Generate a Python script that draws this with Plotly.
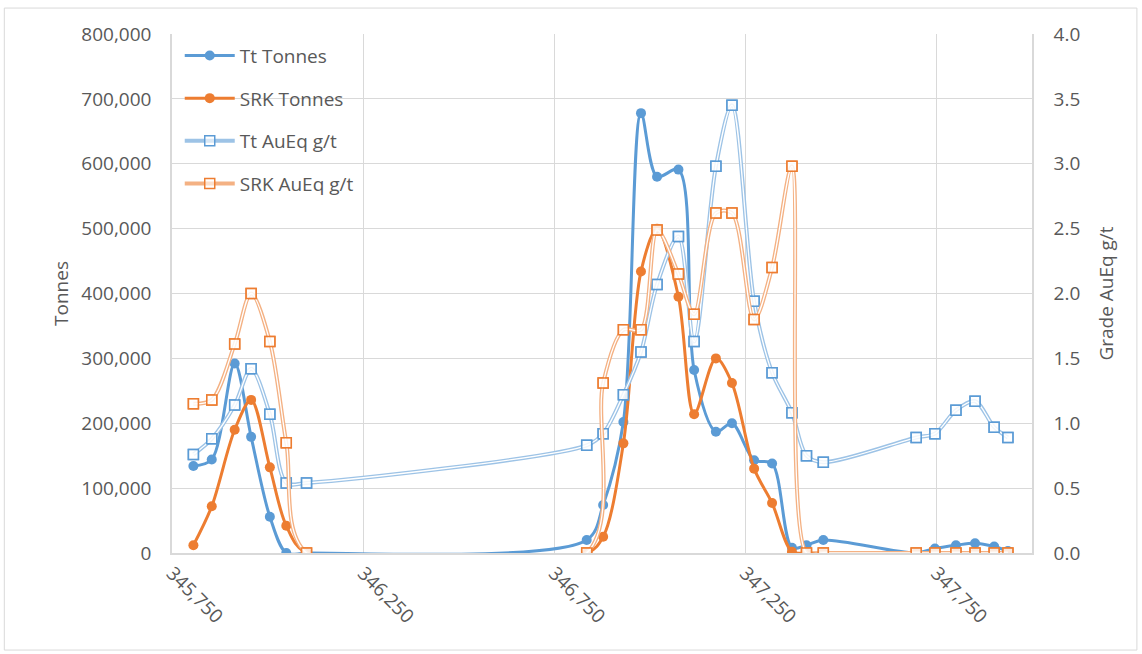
import plotly.graph_objects as go

# Section northing positions shared by all four series
northing = [345806, 345854, 345914, 345957, 346006, 346049, 346102,
            346835, 346878, 346931, 346977, 347019, 347075, 347116, 347173,
            347215, 347273, 347320, 347372, 347410, 347454,
            347697, 347746, 347801, 347851, 347901, 347937]

tt_tonnes = [134000, 144000, 292000, 179000, 56000, 0, 0,
             20000, 74000, 202000, 678000, 580000, 591000, 282000, 187000,
             200000, 143000, 138000, 8000, 12000, 20000,
             0, 7000, 12000, 15000, 10000, 3000]

srk_tonnes = [12000, 72000, 190000, 236000, 132000, 42000, 0,
              0, 25000, 169000, 434000, 500000, 395000, 214000, 300000,
              262000, 130000, 77000, 2000, 0, 0,
              0, 0, 0, 0, 0, 0]

tt_grade = [0.76, 0.88, 1.14, 1.42, 1.07, 0.54, 0.54,
            0.83, 0.92, 1.22, 1.55, 2.07, 2.44, 1.63, 2.98,
            3.45, 1.94, 1.39, 1.08, 0.75, 0.70,
            0.89, 0.92, 1.10, 1.17, 0.97, 0.89]

srk_grade = [1.15, 1.18, 1.61, 2.00, 1.63, 0.85, 0.0,
             0.0, 1.31, 1.72, 1.72, 2.49, 2.15, 1.84, 2.62,
             2.62, 1.80, 2.20, 2.98, 0.0, 0.0,
             0.0, 0.0, 0.0, 0.0, 0.0, 0.0]

BLUE = "#5B9BD5"
ORANGE = "#ED7D31"
LIGHT_BLUE = "#9DC3E6"
LIGHT_ORANGE = "#F4B183"
TEXT = "#595959"
GRID = "#D9D9D9"
FONT = "Open Sans"
FS = 19
SMOOTH = 0.9

fig = go.Figure()

# Tonnage series on the primary axis
fig.add_trace(go.Scatter(
    x=northing, y=tt_tonnes, name="Tt Tonnes", mode="lines+markers",
    line=dict(color=BLUE, width=3, shape="spline", smoothing=SMOOTH),
    marker=dict(symbol="circle", size=10, color=BLUE),
    legendgroup="a", yaxis="y"))
fig.add_trace(go.Scatter(
    x=northing, y=srk_tonnes, name="SRK Tonnes", mode="lines+markers",
    line=dict(color=ORANGE, width=3, shape="spline", smoothing=SMOOTH),
    marker=dict(symbol="circle", size=10, color=ORANGE),
    legendgroup="b", yaxis="y"))


def grade_series(y, name, line_col, edge_col, group):
    # double line: wide coloured stroke, thin white core, then the square markers
    fig.add_trace(go.Scatter(
        x=northing, y=y, name=name, mode="lines+markers",
        line=dict(color=line_col, width=4, shape="spline", smoothing=SMOOTH),
        marker=dict(symbol="square", size=10, color="rgba(255,255,255,0.6)",
                    line=dict(color=edge_col, width=1.5)),
        legendgroup=group, yaxis="y2"))
    fig.add_trace(go.Scatter(
        x=northing, y=y, mode="lines", showlegend=False, hoverinfo="skip",
        line=dict(color="white", width=1.3, shape="spline", smoothing=SMOOTH),
        legendgroup=group, yaxis="y2"))
    fig.add_trace(go.Scatter(
        x=northing, y=y, mode="markers", showlegend=False, hoverinfo="skip",
        marker=dict(symbol="square", size=10, color="rgba(255,255,255,0.6)",
                    line=dict(color=edge_col, width=1.5)),
        legendgroup=group, yaxis="y2"))


grade_series(tt_grade, "Tt AuEq g/t", LIGHT_BLUE, BLUE, "c")
grade_series(srk_grade, "SRK AuEq g/t", LIGHT_ORANGE, ORANGE, "d")

fig.update_layout(
    width=1142, height=654,
    margin=dict(l=172, r=110, t=34, b=101),
    paper_bgcolor="white", plot_bgcolor="white",
    font=dict(family=FONT, size=FS, color=TEXT),
    showlegend=True,
    legend=dict(x=0.009, y=0.995, xanchor="left", yanchor="top",
                bgcolor="rgba(0,0,0,0)", font=dict(size=FS, color=TEXT),
                tracegroupgap=15, itemwidth=50),
    xaxis=dict(range=[345750, 348000], tick0=345750, dtick=500,
               tickformat=",", tickangle=45, showgrid=True, gridcolor=GRID,
               showline=True, linecolor=GRID, linewidth=1.5, zeroline=False,
               ticks="", tickfont=dict(size=FS, color=TEXT)),
    yaxis=dict(range=[0, 800000], dtick=100000, tickformat=",",
               showgrid=True, gridcolor=GRID, showline=True, linecolor=GRID,
               linewidth=1.5, zeroline=False, ticks="", ticklabelstandoff=15,
               title=dict(text="Tonnes", standoff=8, font=dict(size=FS, color=TEXT)),
               tickfont=dict(size=FS, color=TEXT)),
    yaxis2=dict(range=[0, 4], dtick=0.5, tickformat=".1f", overlaying="y",
                side="right", showgrid=False, showline=True, linecolor=GRID,
                linewidth=1.5, zeroline=False, ticks="", ticklabelstandoff=16,
                title=dict(text="Grade AuEq g/t", standoff=20,
                           font=dict(size=FS, color=TEXT)),
                tickfont=dict(size=FS, color=TEXT)),
    shapes=[dict(type="rect", xref="paper", yref="paper",
                 x0=-0.195, x1=1.122, y0=-0.187, y1=1.05,
                 line=dict(color=GRID, width=1), layer="below")],
)

fig.write_html("out.html")
